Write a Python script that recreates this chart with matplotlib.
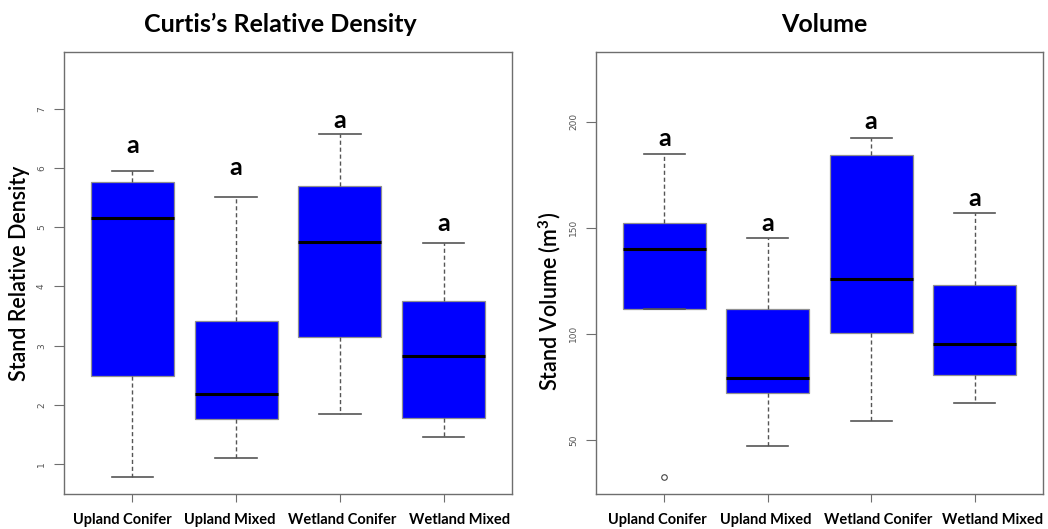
import matplotlib
matplotlib.use("Agg")
import matplotlib.pyplot as plt
import matplotlib.transforms as mtransforms

plt.rcParams["mathtext.fontset"] = "custom"
plt.rcParams["mathtext.rm"] = "Lato"
plt.rcParams["mathtext.bf"] = "Lato:bold"
plt.rcParams["mathtext.it"] = "Lato:italic"

categories = ["Upland Conifer", "Upland Mixed", "Wetland Conifer", "Wetland Mixed"]

# Curtis's Relative Density box stats
rd_whislo = [0.78, 1.10, 1.85, 1.46]
rd_q1 = [2.48, 1.76, 3.15, 1.78]
rd_med = [5.15, 2.18, 4.75, 2.83]
rd_q3 = [5.77, 3.42, 5.70, 3.75]
rd_whishi = [5.95, 5.52, 6.57, 4.73]
rd_fliers = [[], [], [], []]
rd_letters = ["a", "a", "a", "a"]
rd_letter_y = [6.38, 6.01, 6.81, 5.07]
rd_ticks = [1, 2, 3, 4, 5, 6, 7]

# Volume box stats
vol_whislo = [111.5, 47.0, 59.0, 67.5]
vol_q1 = [111.5, 72.0, 100.2, 80.7]
vol_med = [139.8, 79.0, 125.9, 95.0]
vol_q3 = [152.4, 111.6, 184.3, 123.1]
vol_whishi = [184.9, 145.1, 192.6, 157.1]
vol_fliers = [[32.3], [], [], []]
vol_letters = ["a", "a", "a", "a"]
vol_letter_y = [192.2, 152.1, 200.0, 163.9]
vol_ticks = [50, 100, 150, 200]

FONT = "Lato"
BLUE = "#0000FF"
GRAY = "#6e6e6e"
W, H = 1048, 529

fig = plt.figure(figsize=(W / 100, H / 100), dpi=100)
ax1 = fig.add_axes([64 / W, 1 - 494 / H, 448 / W, 442 / H])
ax2 = fig.add_axes([596 / W, 1 - 494 / H, 447 / W, 442 / H])


def draw(ax, wlo, q1, med, q3, whi, fliers, letters, ly, ticks, ylim, label_shift_px):
    stats = []
    for i in range(len(categories)):
        stats.append(dict(whislo=wlo[i], q1=q1[i], med=med[i], q3=q3[i],
                          whishi=whi[i], fliers=fliers[i]))
    pos = list(range(1, len(categories) + 1))
    ax.bxp(stats, positions=pos, widths=0.8, patch_artist=True,
           boxprops=dict(facecolor=BLUE, edgecolor="#909090", linewidth=0.9),
           medianprops=dict(color="black", linewidth=2.2),
           whiskerprops=dict(color="#555555", linewidth=1.0, linestyle=(0, (3, 2))),
           capprops=dict(color="#555555", linewidth=1.2),
           capwidths=0.4,
           flierprops=dict(marker="o", markersize=4, markerfacecolor="none",
                           markeredgecolor="#444444", markeredgewidth=0.8),
           zorder=2)
    for p, t, y in zip(pos, letters, ly):
        ax.text(p, y, t, ha="center", va="center", fontsize=18,
                fontweight="bold", family=FONT, color="black")
    ax.set_xlim(0.34, 4.66)
    ax.set_ylim(*ylim)
    ax.set_xticks(pos)
    ax.set_xticklabels([""] * len(pos))
    base = ax.get_xaxis_transform()
    for p, cat, dx in zip(pos, categories, label_shift_px):
        tr = base + mtransforms.ScaledTranslation(dx / 100, -26 / 100, fig.dpi_scale_trans)
        ax.text(p, 0, cat, transform=tr, ha="center", va="center",
                fontsize=10.5, fontweight="bold", family=FONT, clip_on=False)
    ax.set_yticks(ticks)
    ax.set_yticklabels([str(t) for t in ticks], rotation=90, va="center",
                       fontsize=6.5, color="#555555")
    ax.tick_params(axis="y", length=7, width=0.8, color=GRAY, pad=6)
    ax.tick_params(axis="x", length=6, width=0.8, color=GRAY, pad=10)
    for s in ax.spines.values():
        s.set_color(GRAY)
        s.set_linewidth(1.0)


draw(ax1, rd_whislo, rd_q1, rd_med, rd_q3, rd_whishi, rd_fliers, rd_letters,
     rd_letter_y, rd_ticks, (0.493, 7.963), [-10, -6, 2, 16])
draw(ax2, vol_whislo, vol_q1, vol_med, vol_q3, vol_whishi, vol_fliers, vol_letters,
     vol_letter_y, vol_ticks, (24.4, 233.0), [-7, -2, 7, 18])

fig.text(280 / W, 1 - 32 / H, "Curtis\u2019s Relative Density", ha="center",
         va="baseline", fontsize=18, fontweight="bold", family=FONT)
fig.text(824 / W, 1 - 32 / H, "Volume", ha="center", va="baseline",
         fontsize=18, fontweight="bold", family=FONT)
fig.text(20 / W, 1 - 273 / H, "Stand Relative Density", rotation=90,
         ha="center", va="center", fontsize=15.5, fontweight="semibold", family=FONT)
fig.text(550 / W, 1 - 301 / H, r"Stand Volume (m$^{\mathbf{3}}$)", rotation=90,
         ha="center", va="center", fontsize=15.5, fontweight="semibold", family=FONT)

fig.savefig("out.png", dpi=100)
